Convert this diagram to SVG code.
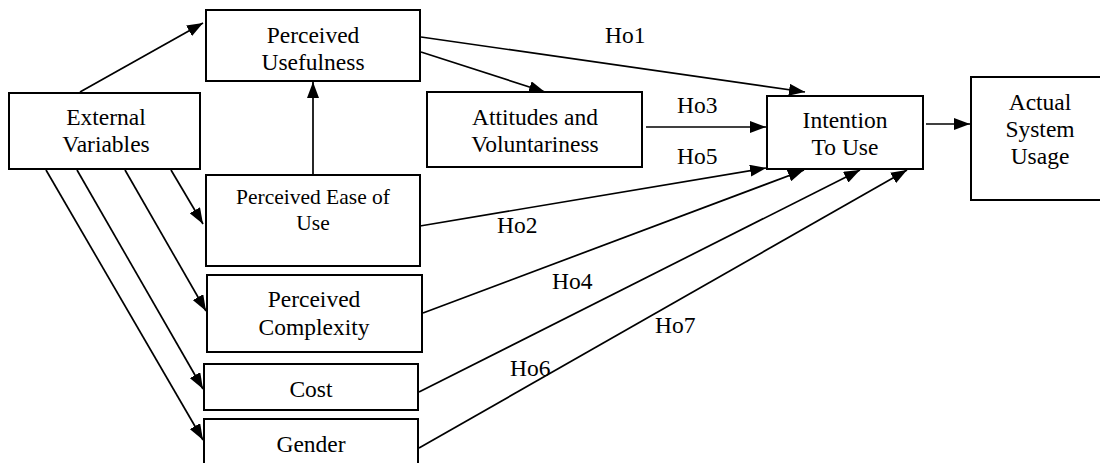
<svg xmlns="http://www.w3.org/2000/svg" width="1100" height="463" viewBox="0 0 1100 463">
<defs>
<marker id="ah" viewBox="0 0 16 12" markerWidth="16" markerHeight="12" refX="16" refY="6" orient="auto" markerUnits="userSpaceOnUse">
<path d="M0,0 L16,6 L0,12 z" fill="#000"/>
</marker>
<style>
.box{fill:#fff;stroke:#000;stroke-width:2}
text{font-family:'Liberation Serif','Times New Roman','DejaVu Serif',Times,serif;font-size:23.5px;fill:#000}
.t{text-anchor:middle}
.s{font-size:21.5px}
.c{stroke:#000;stroke-width:1.7;fill:none;marker-end:url(#ah)}
</style>
</defs>
<rect width="1100" height="463" fill="#fff"/>
<g id="connectors" font-family="Liberation Serif, Times New Roman, serif">
<line class="c" x1="80" y1="92" x2="203" y2="23"/>
<line class="c" x1="171" y1="170" x2="203" y2="224"/>
<line class="c" x1="125" y1="170" x2="206" y2="311"/>
<line class="c" x1="77" y1="170" x2="203" y2="389"/>
<line class="c" x1="46" y1="170" x2="203" y2="440"/>
<line class="c" x1="313" y1="176" x2="313" y2="82"/>
<line class="c" x1="421" y1="37" x2="805" y2="92"/>
<line class="c" x1="421" y1="52" x2="545" y2="92"/>
<line class="c" x1="646" y1="127" x2="766" y2="127"/>
<line class="c" x1="420" y1="226" x2="766" y2="168"/>
<line class="c" x1="423" y1="313" x2="804" y2="170"/>
<line class="c" x1="419" y1="392" x2="860" y2="170"/>
<line class="c" x1="419" y1="448" x2="907" y2="170"/>
<line class="c" x1="926" y1="124" x2="970" y2="124"/>
<text x="605" y="43">Ho1</text>
<text x="677" y="113">Ho3</text>
<text x="677" y="164">Ho5</text>
<text x="497" y="233">Ho2</text>
<text x="552" y="289">Ho4</text>
<text x="655" y="333">Ho7</text>
<text x="510" y="376">Ho6</text>
</g>
<g id="external-variables">
<rect class="box" x="9" y="93" width="191" height="76"/>
<text class="t" x="106" y="125">External</text>
<text class="t" x="106" y="152">Variables</text>
</g>
<g id="perceived-usefulness">
<rect class="box" x="206" y="10" width="214" height="71"/>
<text class="t" x="313" y="43">Perceived</text>
<text class="t" x="313" y="70">Usefulness</text>
</g>
<g id="perceived-ease-of-use">
<rect class="box" x="206" y="175" width="214" height="91"/>
<text class="t s" x="313" y="204">Perceived Ease of</text>
<text class="t s" x="313" y="230">Use</text>
</g>
<g id="perceived-complexity">
<rect class="box" x="207" y="275" width="215" height="77"/>
<text class="t" x="314" y="307">Perceived</text>
<text class="t" x="314" y="335">Complexity</text>
</g>
<g id="cost">
<rect class="box" x="204" y="364" width="214" height="46"/>
<text class="t" x="311" y="397">Cost</text>
</g>
<g id="gender">
<rect class="box" x="204" y="419" width="214" height="60"/>
<text class="t" x="311" y="452">Gender</text>
</g>
<g id="attitudes-voluntariness">
<rect class="box" x="427" y="92" width="215" height="75"/>
<text class="t" x="535" y="125">Attitudes and</text>
<text class="t" x="535" y="152">Voluntariness</text>
</g>
<g id="intention-to-use">
<rect class="box" x="767" y="96" width="156" height="73"/>
<text class="t" x="845" y="128">Intention</text>
<text class="t" x="845" y="155">To Use</text>
</g>
<g id="actual-system-usage">
<rect class="box" x="971" y="77" width="139" height="123"/>
<text class="t" x="1040" y="110">Actual</text>
<text class="t" x="1040" y="137">System</text>
<text class="t" x="1040" y="164">Usage</text>
</g>
</svg>
